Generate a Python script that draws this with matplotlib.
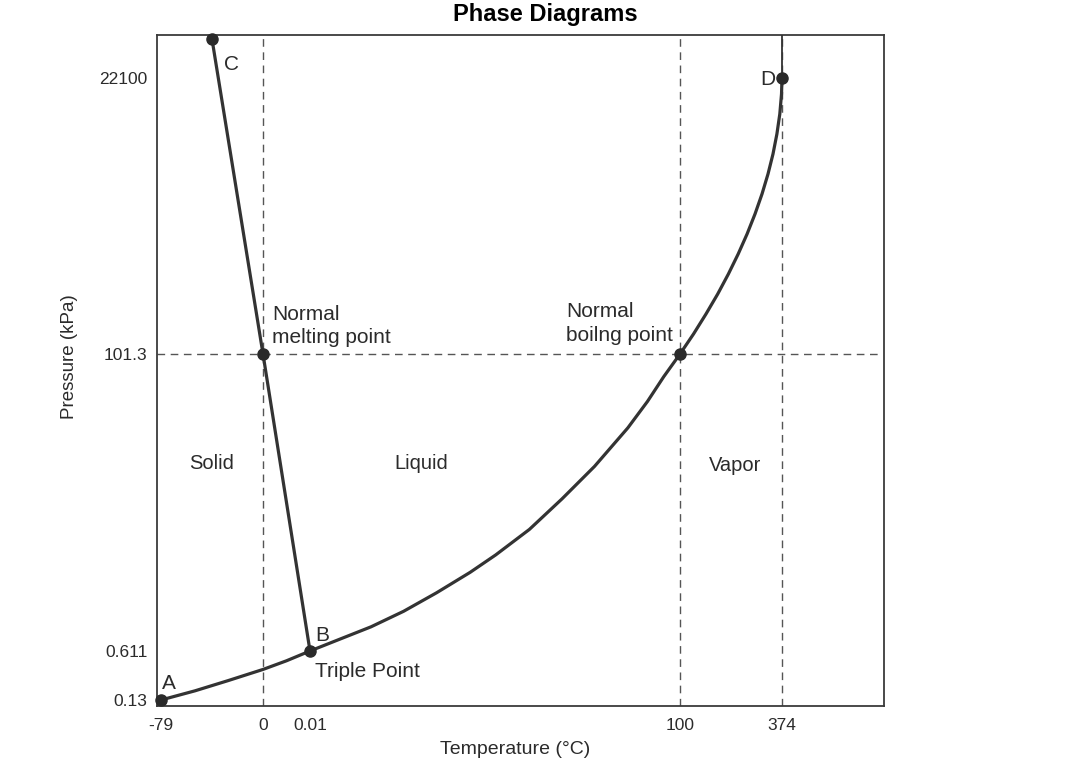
import numpy as np
import matplotlib
matplotlib.use('Agg')
import matplotlib.pyplot as plt

plt.rcParams['font.family'] = ['Liberation Sans', 'DejaVu Sans']

# tick values on the (schematic, non-linear) axes
temp_ticks = [-79, 0, 0.01, 100, 374]
temp_labels = ['-79', '0', '0.01', '100', '374']
pres_ticks = [0.13, 0.611, 101.3, 22100]
pres_labels = ['0.13', '0.611', '101.3', '22100']

# sublimation curve A -> B
sub_t = [-79, -52.7, -27.1, 0, 0.005, 0.01]
sub_p = [0.13, 0.22, 0.32, 0.43, 0.515, 0.611]

# melting curve B -> normal melting point -> C
melt_t = [0.01, 0, -39.5]
melt_p = [0.611, 101.3, 25200]

# vaporization curve B -> normal boiling point -> D
vap_t = [0.01, 7.3, 16.5, 25.3, 34.2, 43.3, 50.2, 59.3, 68.1, 76.9, 85.9, 91.2,
         95.6, 100, 136.3, 169.8, 201.3, 230.0, 256.3, 280.2, 301.5, 320.3,
         336.4, 349.8, 360.3, 368.1, 372.7, 374]
vap_p = [0.611, 4.24, 8.81, 14.07, 20.34, 27.29, 33.19, 41.83, 52.17, 63.2, 76.25,
         85.2, 93.6, 101.3, 1695, 3289, 4883, 6478, 8072, 9666, 11260, 12854,
         14448, 16042, 17637, 19231, 20825, 22100]

# labelled points
pt_A = (-79, 0.13)
pt_B = (0.01, 0.611)
pt_C = (-39.5, 25200)
pt_D = (374, 22100)
pt_mp = (0, 101.3)
pt_bp = (100, 101.3)

# where each tick sits inside the axes box (pixels), the drawing is not to scale
AX_W, AX_H = 727, 671
x_pos = [4, 106, 153, 523, 625]
y_pos = [6, 55, 352, 628]


def piecewise(vals, src, dst):
    v = np.asarray(vals, dtype=float)
    shp = v.shape
    v = np.atleast_1d(v).ravel()
    out = np.interp(v, src, dst)
    lo = v < src[0]
    hi = v > src[-1]
    out[lo] = dst[0] + (v[lo] - src[0]) * (dst[1] - dst[0]) / (src[1] - src[0])
    out[hi] = dst[-1] + (v[hi] - src[-1]) * (dst[-1] - dst[-2]) / (src[-1] - src[-2])
    return out.reshape(shp)


fwd_x = lambda v: piecewise(v, temp_ticks, x_pos)
inv_x = lambda v: piecewise(v, x_pos, temp_ticks)
fwd_y = lambda v: piecewise(v, pres_ticks, y_pos)
inv_y = lambda v: piecewise(v, y_pos, pres_ticks)

fig = plt.figure(figsize=(10.83, 7.69), dpi=100)
ax = fig.add_axes([157 / 1083, 63 / 769, AX_W / 1083, AX_H / 769])
ax.set_xscale('function', functions=(fwd_x, inv_x))
ax.set_yscale('function', functions=(fwd_y, inv_y))
ax.set_xlim(float(inv_x(0)), float(inv_x(AX_W)))
ax.set_ylim(float(inv_y(0)), float(inv_y(AX_H)))

line_col = '#333333'
txt_col = '#2b2b2b'
dash = dict(color='#555555', lw=1.0, ls=(0, (5.5, 4)), zorder=1)

# guide lines
for t in [0, 100, 374]:
    ax.axvline(t, **dash)
ax.axhline(101.3, xmax=0.992, **dash)

for xs, ys in [(sub_t, sub_p), (melt_t, melt_p), (vap_t, vap_p)]:
    ax.plot(xs, ys, color=line_col, lw=2.3, zorder=3, solid_joinstyle='round')
# critical point line continues straight up
ax.plot([pt_D[0], pt_D[0]], [pt_D[1], ax.get_ylim()[1]], color=line_col, lw=1.3, zorder=3)

pts = [pt_A, pt_B, pt_C, pt_D, pt_mp, pt_bp]
ax.plot([p[0] for p in pts], [p[1] for p in pts], 'o', color='#2a2a2a', ms=8,
        zorder=4, clip_on=False)

fs = 15
ann = dict(textcoords='offset points', fontsize=fs, color=txt_col)
ax.annotate('A', pt_A, xytext=(6, 12), ha='center', va='center', **ann)
ax.annotate('B', pt_B, xytext=(9, 11), ha='center', va='center', **ann)
ax.annotate('C', pt_C, xytext=(14, -18), ha='center', va='center', **ann)
ax.annotate('D', pt_D, xytext=(-10, -1), ha='center', va='center', **ann)
ax.annotate('Triple Point', pt_B, xytext=(3.5, -14.5), ha='left', va='center', **ann)
ax.annotate('Normal\nmelting point', pt_mp, xytext=(6.5, 20), ha='left', va='center',
            linespacing=1.3, **ann)
ax.annotate('Normal\nboilng point', pt_bp, xytext=(-5, 22), ha='right', va='center',
            multialignment='left', linespacing=1.3, **ann)

for name, fx, fy in [('Solid', 0.0757, 0.362), ('Liquid', 0.3631, 0.362),
                     ('Vapor', 0.7951, 0.359)]:
    ax.text(fx, fy, name, transform=ax.transAxes, ha='center', va='center',
            fontsize=14.5, color=txt_col)

ax.set_xticks(temp_ticks)
ax.set_xticklabels(temp_labels)
ax.set_yticks(pres_ticks)
ax.set_yticklabels(pres_labels)
ax.minorticks_off()
ax.tick_params(axis='both', length=0, labelsize=12.5, labelcolor=txt_col)
ax.tick_params(axis='x', pad=9)
ax.tick_params(axis='y', pad=7)

for sp in ax.spines.values():
    sp.set_color('#3a3a3a')
    sp.set_linewidth(1.3)

ax.set_xlabel('Temperature (°C)', fontsize=14, color=txt_col)
ax.set_ylabel('Pressure (kPa)', fontsize=13.5, color=txt_col)
ax.xaxis.set_label_coords(0.4925, -0.052)
ax.yaxis.set_label_coords(-0.109, 0.52)

fig.text(545 / 1083, 1 - 21 / 769, 'Phase Diagrams', ha='center', va='baseline',
         fontsize=17, fontweight='bold', color='black')

fig.savefig('out.png', dpi=100)
